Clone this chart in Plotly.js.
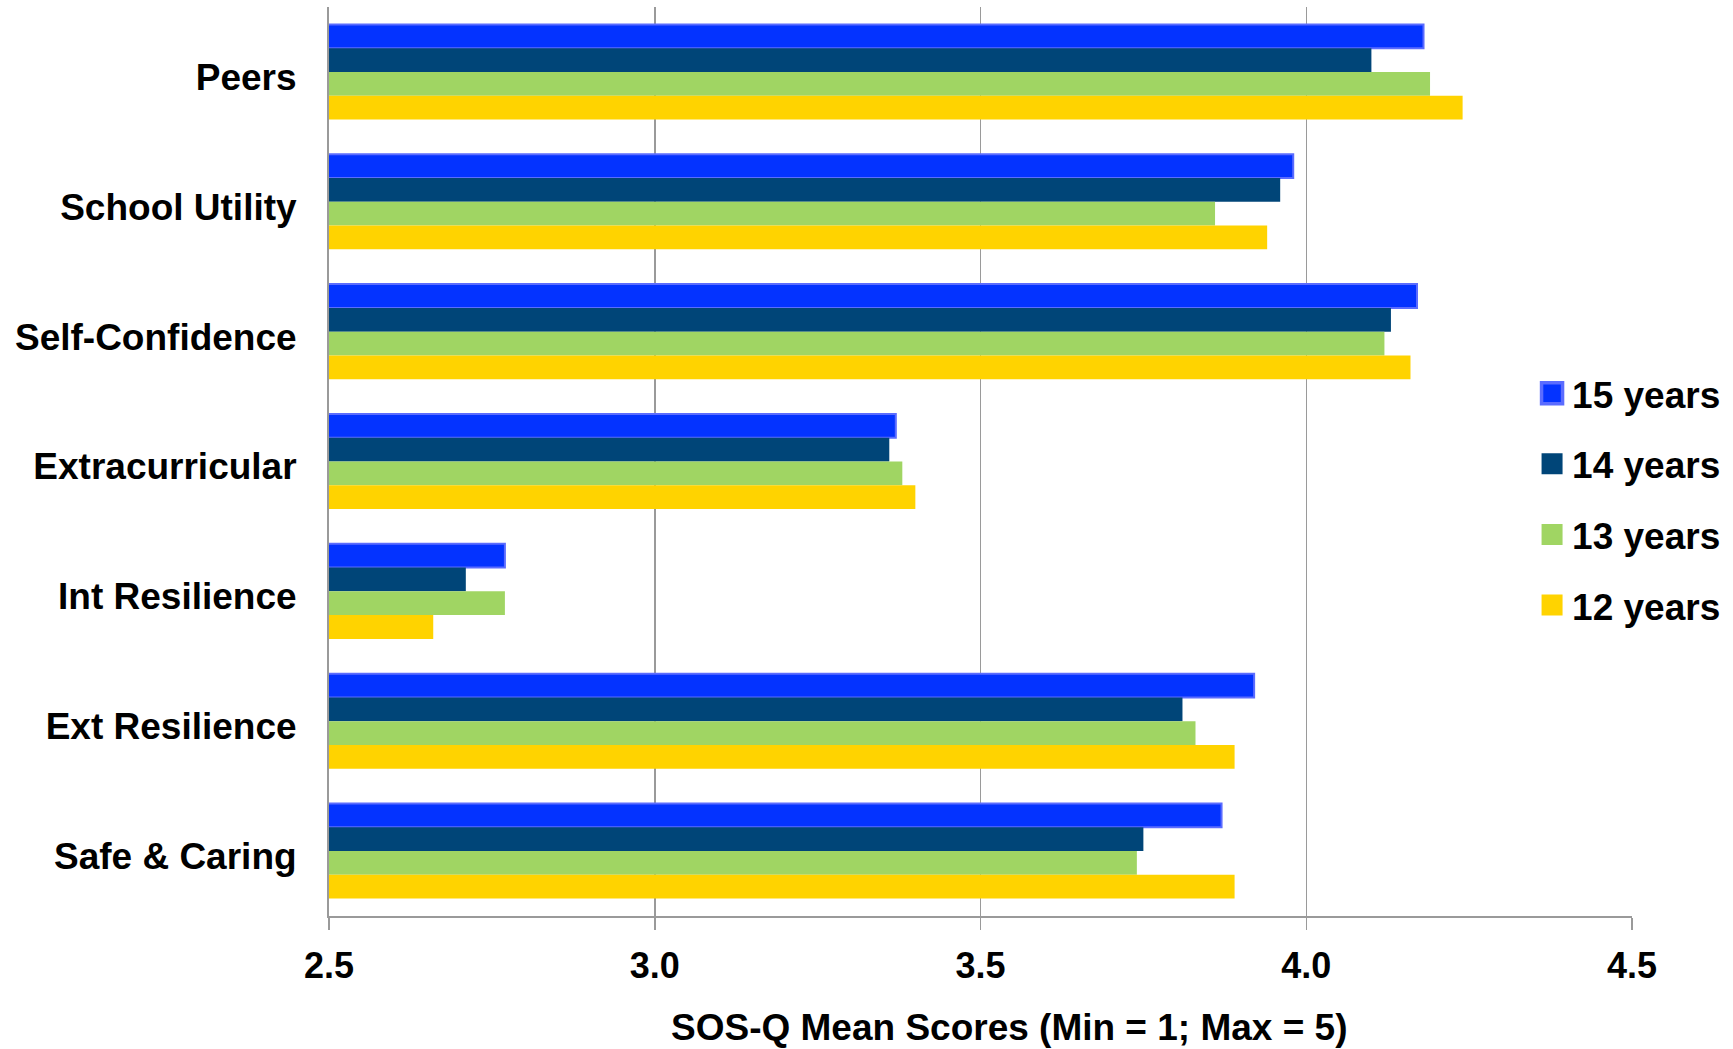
<!DOCTYPE html>
<html>
<head>
<meta charset="utf-8">
<script src="https://cdn.plot.ly/plotly-3.0.1.min.js"></script>
<style>
  html, body { margin: 0; padding: 0; background: #ffffff; }
  #chart { width: 1733px; height: 1049px; }
</style>
</head>
<body>
<div id="chart"></div>
<script>
// SOS-Q scale means by age group
const scales = ["Peers", "School Utility", "Self-Confidence", "Extracurricular",
                "Int Resilience", "Ext Resilience", "Safe & Caring"];

const age15 = [4.18, 3.98, 4.17, 3.37, 2.77, 3.92, 3.87];
const age14 = [4.10, 3.96, 4.13, 3.36, 2.71, 3.81, 3.75];
const age13 = [4.19, 3.86, 4.12, 3.38, 2.77, 3.83, 3.74];
const age12 = [4.24, 3.94, 4.16, 3.40, 2.66, 3.89, 3.89];

const seriesNames = ["15 years", "14 years", "13 years", "12 years"];
const xTicks = [2.5, 3.0, 3.5, 4.0, 4.5];
const xTickText = ["2.5", "3.0", "3.5", "4.0", "4.5"];
const xTitle = "SOS-Q Mean Scores (Min = 1; Max = 5)";

const FONT = "Liberation Sans, Arial, Helvetica, sans-serif";
const labelFont = { family: FONT, size: 37, color: "#000000", weight: "bold" };

function barTrace(name, values, fill, edge, edgeWidth) {
  return {
    type: "bar",
    orientation: "h",
    name: name,
    legendgroup: name,
    y: scales,
    x: values,
    base: 0,
    marker: { color: fill, line: { color: edge, width: edgeWidth } },
    hoverinfo: "x+y+name"
  };
}

const data = [
  barTrace(seriesNames[0], age15, "#0433ff", "#5b6cff", 2),
  barTrace(seriesNames[1], age14, "#004578", "#004578", 0),
  barTrace(seriesNames[2], age13, "#a0d563", "#a0d563", 0),
  barTrace(seriesNames[3], age12, "#ffd300", "#ffd300", 0)
];

const layout = {
  width: 1733,
  height: 1049,
  paper_bgcolor: "#ffffff",
  plot_bgcolor: "#ffffff",
  margin: { l: 329, r: 101, t: 7, b: 133 },
  barmode: "group",
  bargap: 0.268,
  bargroupgap: 0,
  font: labelFont,
  xaxis: {
    range: [2.5, 4.5],
    tickvals: xTicks,
    ticktext: xTickText,
    showgrid: true,
    gridcolor: "#9a9a9a",
    gridwidth: 1.5,
    zeroline: false,
    showline: true,
    linecolor: "#9a9a9a",
    linewidth: 2,
    ticks: "outside",
    ticklen: 12,
    tickwidth: 1.5,
    tickcolor: "#9a9a9a",
    ticklabelstandoff: 5,
    tickfont: { family: FONT, size: 36, color: "#000000", weight: "bold" }
  },
  yaxis: {
    type: "category",
    autorange: "reversed",
    showgrid: false,
    zeroline: false,
    showline: true,
    linecolor: "#9a9a9a",
    linewidth: 2,
    ticks: "",
    ticklabelstandoff: 23,
    ticklabelshift: -5,
    tickfont: labelFont
  },
  // axis caption, set a little right of the plot centre
  annotations: [{
    text: xTitle,
    xref: "paper",
    yref: "paper",
    x: 0.5219,
    y: -0.1232,
    xanchor: "center",
    yanchor: "middle",
    showarrow: false,
    font: labelFont
  }],
  showlegend: true,
  legend: {
    x: 0.9233,
    xanchor: "left",
    y: 0.4585,
    yanchor: "middle",
    bgcolor: "#ffffff",
    borderwidth: 0,
    traceorder: "grouped",
    tracegroupgap: 19.5,
    font: labelFont
  }
};

Plotly.newPlot("chart", data, layout, { displayModeBar: false, staticPlot: true }).then(function (gd) {
  // enlarge the legend swatches, keeping their existing placement
  gd.querySelectorAll(".legendpoints path").forEach(function (p) {
    const t = p.getAttribute("transform") || "";
    p.setAttribute("transform", t + " scale(1.75)");
  });
});
</script>
</body>
</html>
